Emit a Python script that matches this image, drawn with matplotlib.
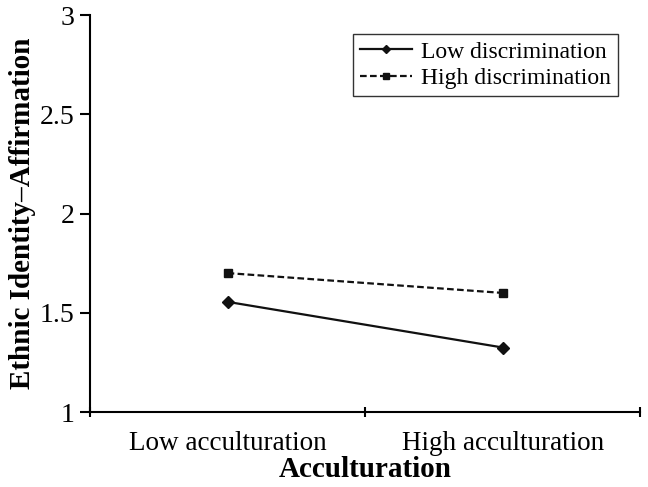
import matplotlib.pyplot as plt
import numpy as np

plt.rcParams['font.family'] = ['Liberation Serif', 'DejaVu Serif']

categories = ['Low acculturation', 'High acculturation']
low_disc = [1.555, 1.325]
high_disc = [1.70, 1.60]

fig = plt.figure(figsize=(6.48, 4.87), dpi=100)
ax = fig.add_axes([0.139, 0.154, 0.849, 0.815])

x = np.arange(len(categories)) + 0.5
ax.plot(x, low_disc, color='#111111', lw=1.6, ls='-', marker='D', ms=6,
        label='Low discrimination')
ax.plot(x, high_disc, color='#111111', lw=1.6, ls=(0, (3, 1.5)), marker='s', ms=6,
        label='High discrimination')

ax.set_xlim(0, 2)
ax.set_ylim(1, 3)
ax.set_xticks([0, 1, 2])
ax.set_xticklabels([])
ax.set_xticks(x, minor=True)
ax.set_xticklabels(categories, minor=True, fontsize=19.5)
ax.tick_params(axis='x', which='minor', length=0, pad=14)
ax.tick_params(axis='x', which='major', length=7, width=1.5, direction='inout')
ax.set_yticks([1, 1.5, 2, 2.5, 3])
ax.set_yticklabels(['1', '1.5', '2', '2.5', '3'], fontsize=20)
ax.tick_params(axis='y', length=7, width=1.5, direction='out', pad=4)

for s in ['top', 'right']:
    ax.spines[s].set_visible(False)
for s in ['left', 'bottom']:
    ax.spines[s].set_linewidth(1.5)

ax.set_xlabel('Acculturation', fontsize=21, fontweight='bold', labelpad=0)
ax.set_ylabel('Ethnic Identity\u2013Affirmation', fontsize=21, fontweight='bold', labelpad=3)

leg = ax.legend(loc='upper right', bbox_to_anchor=(0.96, 0.952), borderaxespad=0,
                fontsize=17, frameon=True, fancybox=False, handlelength=2.2,
                borderpad=0.3, labelspacing=0.2, handletextpad=0.4, markerscale=0.7)
leg.get_frame().set_edgecolor('black')
leg.get_frame().set_linewidth(1.0)

fig.savefig('out.png', dpi=100)
